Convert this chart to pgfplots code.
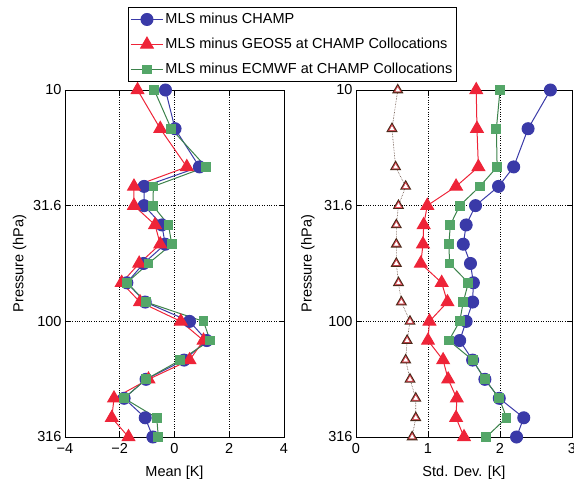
\documentclass[border=0pt]{standalone}
\usepackage{fontspec}
\setmainfont{Liberation Sans}
\usepackage{pgfplots}
\usepackage{pgfplotstable}
\pgfplotsset{compat=1.18}

\definecolor{cblue}{RGB}{58,58,168}
\definecolor{cred}{RGB}{238,36,56}
\definecolor{cgreen}{RGB}{84,166,104}
\definecolor{cgline}{RGB}{60,130,75}
\definecolor{cbrown}{RGB}{75,40,25}

% pressure, mean, std
\pgfplotstableread{
p     mean   std
10    -0.33  2.70
14.7   0.02  2.39
21.5   0.91  2.19
26.1  -1.11  1.98
31.6  -1.11  1.66
38.3  -0.46  1.53
46.4  -0.34  1.49
56.2  -1.13  1.59
68.1  -1.74  1.63
82.5  -1.07  1.62
100    0.55  1.53
121    1.18  1.44
147    0.35  1.62
178   -1.04  1.79
215   -1.84  1.99
261   -1.07  2.33
316   -0.79  2.23
}\champ

\pgfplotstableread{
p     mean   std
10    -1.35  1.67
14.7  -0.52  1.68
21.5   0.45  1.70
26.1  -1.48  1.39
31.6  -1.48  0.99
38.3  -0.71  0.94
46.4  -0.52  0.93
56.2  -1.29  0.90
68.1  -1.93  1.19
82.5  -1.26  1.27
100    0.23  1.02
121    1.06  1.00
147    0.55  1.21
178   -0.95  1.28
215   -2.21  1.40
261   -2.29  1.39
316   -1.68  1.50
}\geos

\pgfplotstableread{
p     mean   std
10    -0.74  2.00
14.7  -0.12  1.95
21.5   1.15  1.96
26.1  -0.77  1.72
31.6  -0.79  1.44
38.3  -0.22  1.31
46.4  -0.10  1.29
56.2  -0.95  1.30
68.1  -1.74  1.56
82.5  -1.04  1.49
100    1.06  1.44
121    1.30  1.29
147    0.21  1.62
178   -1.04  1.79
215   -1.84  1.99
261   -0.65  2.09
316   -0.59  1.81
}\ecmwf

\pgfplotstableread{
p     std
10    0.58
14.7  0.50
21.5  0.55
26.1  0.69
31.6  0.59
38.3  0.56
46.4  0.56
56.2  0.56
68.1  0.59
82.5  0.63
100   0.75
121   0.71
147   0.69
178   0.75
215   0.83
261   0.83
316   0.78
}\noise

\tikzset{
  bl/.style={cblue, line width=1pt, mark=*, mark size=6pt, mark options={fill=cblue, draw=cblue}},
  rd/.style={cred, line width=1pt, mark=triangle*, mark size=7.3pt, mark options={fill=cred, draw=cred}},
  gr/.style={cgline, line width=1pt, mark=square*, mark size=4.4pt, mark options={fill=cgreen, draw=cgreen}},
}

\begin{document}
\begin{tikzpicture}
\useasboundingbox (0pt,0pt) rectangle (574pt,479pt);
\begin{axis}[
  scale only axis, anchor=south west, height=347pt,
  at={(65pt,42pt)}, width=219pt,
  ymode=log, y dir=reverse, ymin=10, ymax=316,
  ytick={10,31.6,100,316}, yticklabels={10,31.6,100,316},
  yminorticks=false, xminorticks=false,
  grid=major, major grid style={dotted, black, line width=0.6pt},
  tick align=inside, major tick length=5pt,
  every tick/.style={black, line width=0.6pt},
  axis line style={line width=0.8pt},
  clip=false,
  font=\fontsize{14.5}{17}\selectfont,
  tick label style={font=\fontsize{14.5}{17}\selectfont},
  xticklabel style={yshift=-2.5pt},
  /pgf/number format/assume math mode=true,
  ylabel={Pressure (hPa)},
  xlabel style={at={(axis description cs:0.5,-0.115)}, anchor=base},
  xmin=-4, xmax=4, xtick={-4,-2,0,2,4},
  xticklabels={−4,−2,0,2,4},
  xlabel={Mean [K]},
  ylabel style={at={(axis description cs:-0.19,0.5)}, anchor=base},
  legend style={at={(axis description cs:0.288,1.239)}, anchor=north west,
    draw=black, line width=0.8pt, fill=white,
    font=\fontsize{14.5}{17}\selectfont, row sep=9pt,
    inner xsep=2pt, inner ysep=4pt},
  legend cell align=left,
  legend image code/.code={\draw[mark repeat=2,mark phase=2,#1] plot coordinates {(0pt,0pt) (16pt,0pt) (32pt,0pt)};},
]
\addplot[bl] table[x=mean, y=p] {\champ};
\addplot[rd] table[x=mean, y=p] {\geos};
\addplot[gr] table[x=mean, y=p] {\ecmwf};
\legend{MLS minus CHAMP, MLS minus GEOS5 at CHAMP Collocations, MLS minus ECMWF at CHAMP Collocations}
\end{axis}

\begin{axis}[
  scale only axis, anchor=south west, height=347pt,
  at={(356pt,42pt)}, width=216pt,
  ymode=log, y dir=reverse, ymin=10, ymax=316,
  ytick={10,31.6,100,316}, yticklabels={10,31.6,100,316},
  yminorticks=false, xminorticks=false,
  grid=major, major grid style={dotted, black, line width=0.6pt},
  tick align=inside, major tick length=5pt,
  every tick/.style={black, line width=0.6pt},
  axis line style={line width=0.8pt},
  clip=false,
  font=\fontsize{14.5}{17}\selectfont,
  tick label style={font=\fontsize{14.5}{17}\selectfont},
  xticklabel style={yshift=-2.5pt},
  /pgf/number format/assume math mode=true,
  ylabel={Pressure (hPa)},
  xlabel style={at={(axis description cs:0.5,-0.115)}, anchor=base},
  xmin=0, xmax=3, xtick={0,1,2,3},
  xlabel={Std. Dev. [K]},
  ylabel style={at={(axis description cs:-0.205,0.5)}, anchor=base},
]
\addplot[cbrown!80!gray, densely dotted, line width=0.6pt, mark=triangle*, mark size=5pt,
  mark options={solid, fill=white, draw=cbrown, line width=1.6pt}] table[x=std, y=p] {\noise};
\addplot[draw=none, mark=triangle, mark size=3.8pt,
  mark options={solid, draw=cred!80, line width=0.6pt}] table[x=std, y=p] {\noise};
\addplot[bl] table[x=std, y=p] {\champ};
\addplot[rd] table[x=std, y=p] {\geos};
\addplot[gr] table[x=std, y=p] {\ecmwf};
\end{axis}
\end{tikzpicture}
\end{document}
